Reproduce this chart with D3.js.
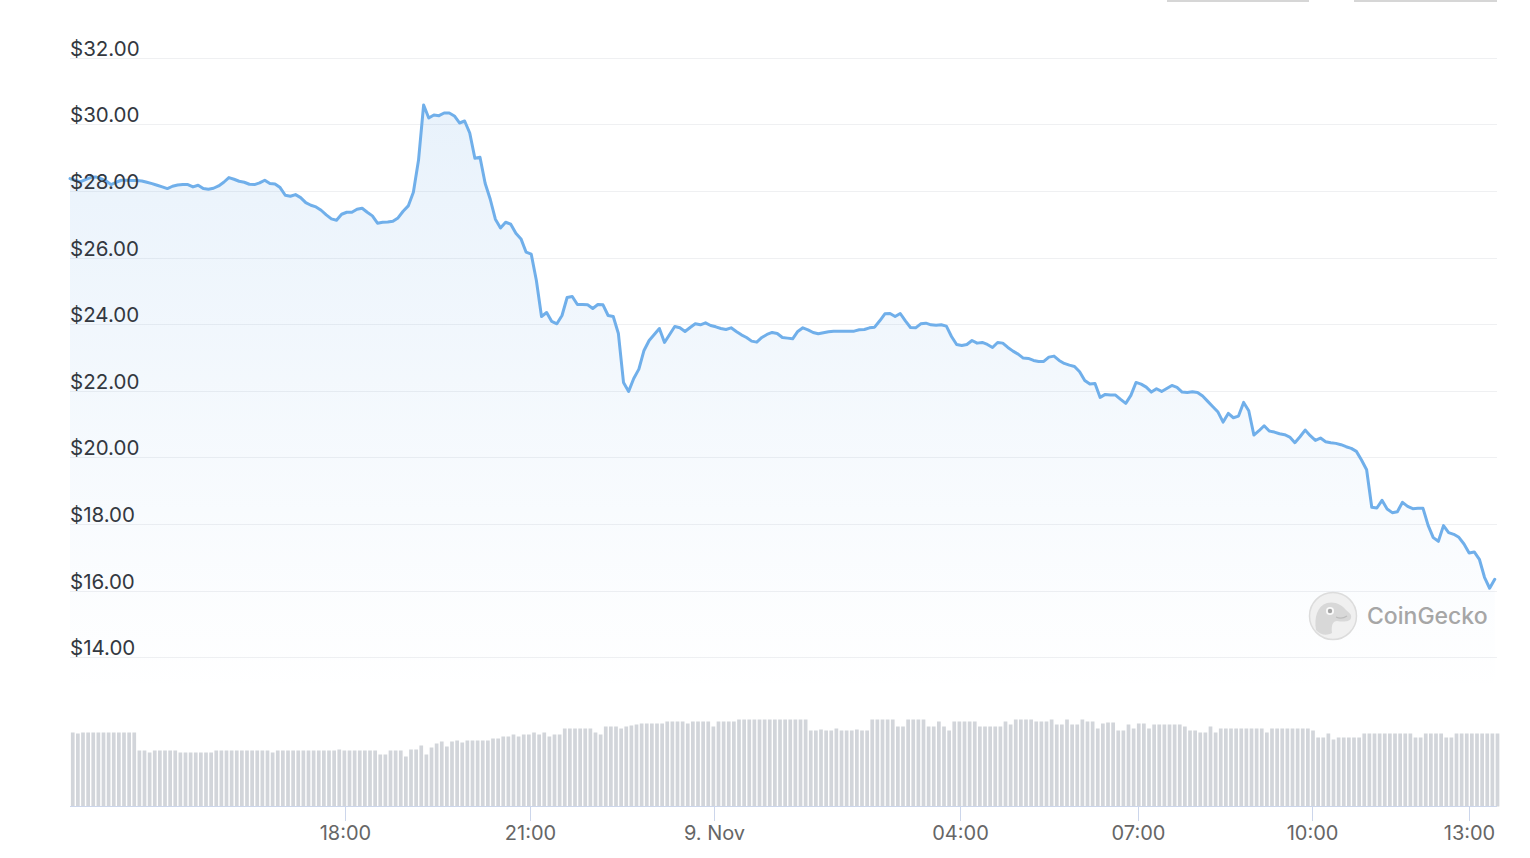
<!DOCTYPE html>
<html>
<head>
<meta charset="utf-8">
<script src="https://cdn.jsdelivr.net/npm/d3@7"></script>
<style>
  html, body { margin: 0; padding: 0; background: #fff; }
  svg { display: block; font-family: Inter, "Helvetica Neue", Arial, sans-serif; }
</style>
</head>
<body>
<svg id="chart" width="1530" height="858"></svg>
<script>
// price samples (USD), one per 5-minute point
const priceValues = [
  28.37, 28.32, 28.27, 28.34, 28.40, 28.42, 28.37, 28.31, 28.19, 28.26,
  28.32, 28.32, 28.31, 28.31, 28.30, 28.26, 28.22, 28.17, 28.12, 28.07,
  28.14, 28.18, 28.19, 28.19, 28.12, 28.17, 28.07, 28.05, 28.08, 28.15,
  28.26, 28.40, 28.35, 28.29, 28.26, 28.20, 28.19, 28.24, 28.32, 28.22,
  28.21, 28.10, 27.87, 27.84, 27.89, 27.80, 27.65, 27.57, 27.52, 27.42,
  27.28, 27.16, 27.12, 27.30, 27.36, 27.36, 27.45, 27.48, 27.36, 27.25,
  27.03, 27.06, 27.07, 27.09, 27.19, 27.39, 27.55, 27.96, 28.92, 30.58,
  30.19, 30.28, 30.26, 30.34, 30.34, 30.25, 30.04, 30.10, 29.74, 28.98,
  29.01, 28.23, 27.75, 27.15, 26.89, 27.06, 27.00, 26.73, 26.56, 26.16,
  26.10, 25.31, 24.23, 24.35, 24.08, 24.01, 24.26, 24.80, 24.83, 24.59,
  24.59, 24.58, 24.47, 24.59, 24.58, 24.26, 24.23, 23.72, 22.25, 21.98,
  22.37, 22.65, 23.21, 23.51, 23.69, 23.87, 23.45, 23.69, 23.93, 23.89,
  23.78, 23.90, 24.01, 23.98, 24.04, 23.96, 23.92, 23.87, 23.84, 23.89,
  23.78, 23.68, 23.60, 23.49, 23.46, 23.60, 23.69, 23.75, 23.72, 23.60,
  23.58, 23.56, 23.78, 23.89, 23.83, 23.75, 23.71, 23.74, 23.77, 23.79,
  23.79, 23.79, 23.79, 23.79, 23.83, 23.84, 23.89, 23.91, 24.10, 24.31,
  24.32, 24.23, 24.32, 24.10, 23.90, 23.89, 24.01, 24.03, 23.98, 23.97,
  23.98, 23.94, 23.63, 23.39, 23.36, 23.39, 23.51, 23.43, 23.45, 23.39,
  23.30, 23.45, 23.43, 23.30, 23.19, 23.10, 22.98, 22.97, 22.91, 22.88,
  22.88, 23.01, 23.04, 22.91, 22.82, 22.77, 22.73, 22.57, 22.31, 22.20,
  22.22, 21.80, 21.89, 21.87, 21.87, 21.74, 21.62, 21.86, 22.25, 22.20,
  22.11, 21.96, 22.06, 21.98, 22.07, 22.16, 22.10, 21.96, 21.95, 21.97,
  21.95, 21.84, 21.68, 21.52, 21.36, 21.06, 21.32, 21.19, 21.24, 21.65,
  21.40, 20.67, 20.80, 20.95, 20.79, 20.76, 20.71, 20.68, 20.61, 20.44,
  20.62, 20.82, 20.65, 20.51, 20.58, 20.47, 20.44, 20.42, 20.38, 20.32,
  20.27, 20.18, 19.92, 19.63, 18.50, 18.48, 18.71, 18.45, 18.34, 18.37,
  18.65, 18.53, 18.46, 18.47, 18.47, 17.96, 17.59, 17.48, 17.95, 17.74,
  17.69, 17.60, 17.40, 17.13, 17.16, 16.94, 16.40, 16.07, 16.34
];

// traded volume per point (relative units)
const volumeValues = [
  74, 73, 74, 74, 74, 74, 74, 74, 74, 74, 74, 74, 74,
  56, 56, 54, 56, 56, 56, 56, 56,
  54, 54, 54, 54, 54, 54, 54,
  56, 56, 56, 56, 56, 56, 56, 56, 56, 56, 56,
  54,
  56, 56, 56, 56, 56, 56, 56, 56, 56, 56, 56, 56,
  57,
  56, 56, 56, 56, 56, 56, 56,
  52, 52, 56, 56, 56, 50, 57, 57,
  61, 52, 59, 63, 65, 60, 65,
  66, 64, 66, 66, 66, 66, 66,
  68, 68, 70, 70,
  72, 70, 72, 72, 74, 72, 74, 70, 72, 72,
  78, 78, 78, 78, 78, 78,
  74, 72, 80, 80, 80,
  78, 80, 81, 82,
  83, 83, 83, 83, 83,
  85, 85, 85, 85, 83, 85, 85, 85, 85, 80, 85, 85, 85, 85,
  87, 87, 87, 87, 87, 87, 87, 87, 87, 87, 87, 87, 87, 87,
  76, 76, 77, 76, 76, 78, 76, 76, 76, 77, 76, 76,
  87, 87, 87, 87, 87,
  80, 80, 87, 87, 87, 87, 80, 80,
  85, 80, 76, 85, 85, 85, 85, 85,
  80, 80, 80, 80, 80, 85, 82,
  87, 87, 87, 87, 85, 85, 85, 87, 82, 82, 87, 82, 82, 87, 85, 85,
  78, 83, 84, 84, 76, 76, 82, 78, 83, 83, 78,
  82, 82, 82, 82, 82, 82,
  80, 76, 76, 74, 74, 80, 74,
  78, 78, 78, 78, 78, 78, 78, 78, 78,
  74,
  78, 78, 78, 78, 78, 78, 78, 78,
  76, 69, 69, 73, 67, 69, 69, 69, 69, 69,
  73, 73, 73, 73, 73, 73, 73, 73, 73, 73,
  69, 69, 73, 73, 73, 73, 69, 69,
  73, 73, 73, 73, 73, 73, 73, 73, 73
];

const priceTicks = [14, 16, 18, 20, 22, 24, 26, 28, 30, 32];
const timeTickLabels = ["18:00", "21:00", "9. Nov", "04:00", "07:00", "10:00", "13:00"];
// position of each label along the point index (ordinal time axis)
const timeTickIndex = [53.66, 89.66, 125.66, 173.66, 208.3, 242.3, 273.0];

const svg = d3.select("#chart");

const left = 70, right = 1497;
const x = d3.scaleLinear()
    .domain([0, priceValues.length - 1])
    .range([70, 70 + (priceValues.length - 1) * 5.125]);

const y = d3.scaleLinear().domain([14, 32]).range([657.2, 57.7]);
const yVol = d3.scaleLinear().domain([0, 100]).range([806.5, 706.5]);

// cut-off buttons at the very top
svg.append("rect").attr("x", 1167).attr("y", 0).attr("width", 142).attr("height", 2).attr("fill", "#d6d6d6");
svg.append("rect").attr("x", 1354).attr("y", 0).attr("width", 143).attr("height", 2).attr("fill", "#d6d6d6");

// gridlines
svg.append("g")
    .selectAll("line")
    .data(priceTicks)
    .join("line")
    .attr("x1", left).attr("x2", right)
    .attr("y1", d => Math.round(y(d)) + 0.5)
    .attr("y2", d => Math.round(y(d)) + 0.5)
    .attr("stroke", "#eff0f2")
    .attr("stroke-width", 1);

// area gradient
const defs = svg.append("defs");
const grad = defs.append("linearGradient")
    .attr("id", "areaFill")
    .attr("gradientUnits", "userSpaceOnUse")
    .attr("x1", 0).attr("x2", 0)
    .attr("y1", y(32)).attr("y2", 690);
grad.append("stop").attr("offset", "0%").attr("stop-color", "rgb(111,172,232)").attr("stop-opacity", 0.17);
grad.append("stop").attr("offset", "100%").attr("stop-color", "rgb(111,172,232)").attr("stop-opacity", 0);

const area = d3.area()
    .x((d, i) => x(i))
    .y0(690)
    .y1(d => y(d));

svg.append("path")
    .datum(priceValues)
    .attr("d", area)
    .attr("fill", "url(#areaFill)");

const line = d3.line()
    .x((d, i) => x(i))
    .y(d => y(d));

svg.append("path")
    .datum(priceValues)
    .attr("d", line)
    .attr("fill", "none")
    .attr("stroke", "#70afea")
    .attr("stroke-width", 3)
    .attr("stroke-linejoin", "round")
    .attr("stroke-linecap", "round");

// y labels (drawn above the line, like the original)
svg.append("g")
    .selectAll("text")
    .data(priceTicks)
    .join("text")
    .attr("x", left)
    .attr("y", d => y(d) - 2)
    .attr("font-size", 20.5)
    .attr("fill", "#333840")
    .text(d => "$" + d.toFixed(2));

// volume bars
svg.append("g")
    .selectAll("rect")
    .data(volumeValues)
    .join("rect")
    .attr("x", (d, i) => x(i) + 0.9)
    .attr("width", 3.7)
    .attr("y", d => yVol(d))
    .attr("height", d => yVol(0) - yVol(d))
    .attr("fill", "#d2d5da");

// x axis line + ticks
svg.append("line")
    .attr("x1", left).attr("x2", right)
    .attr("y1", 806.5).attr("y2", 806.5)
    .attr("stroke", "#ccd6eb");

const ticks = svg.append("g");
timeTickLabels.forEach((lab, k) => {
    const tx = Math.round(x(timeTickIndex[k])) + 0.5;
    ticks.append("line")
        .attr("x1", tx).attr("x2", tx)
        .attr("y1", 806.5).attr("y2", 821)
        .attr("stroke", "#ccd6eb");
    ticks.append("text")
        .attr("x", tx)
        .attr("y", 839.5)
        .attr("text-anchor", "middle")
        .attr("font-size", 20)
        .attr("fill", "#666")
        .text(lab);
});

// CoinGecko watermark
const wm = svg.append("g").attr("transform", "translate(1333,616)");
wm.append("circle").attr("r", 23.5).attr("fill", "#f0f0f0").attr("stroke", "#dcdcdc").attr("stroke-width", 1.5);
wm.append("path")
    .attr("d", "M-17,14 C-19,2 -16,-10 -6,-13 C2,-15 9,-11 13,-6 C16,-3 19,-2 18,2 C17,6 10,6 4,5 C0,5 -2,9 -1,17 C-6,20 -13,19 -17,14 Z")
    .attr("fill", "#d8d8d8");
wm.append("circle").attr("cx", -3).attr("cy", -5).attr("r", 4).attr("fill", "#fafafa");
wm.append("circle").attr("cx", -3).attr("cy", -5).attr("r", 2.2).attr("fill", "#a5a5a5");
wm.append("path")
    .attr("d", "M3,1 C7,3 11,2 14,0")
    .attr("fill", "none").attr("stroke", "#bdbdbd").attr("stroke-width", 1.2);
svg.append("text")
    .attr("x", 1367).attr("y", 624)
    .attr("font-size", 23)
    .attr("font-weight", 500)
    .attr("fill", "#a6a6a6")
    .text("CoinGecko");
</script>
</body>
</html>
